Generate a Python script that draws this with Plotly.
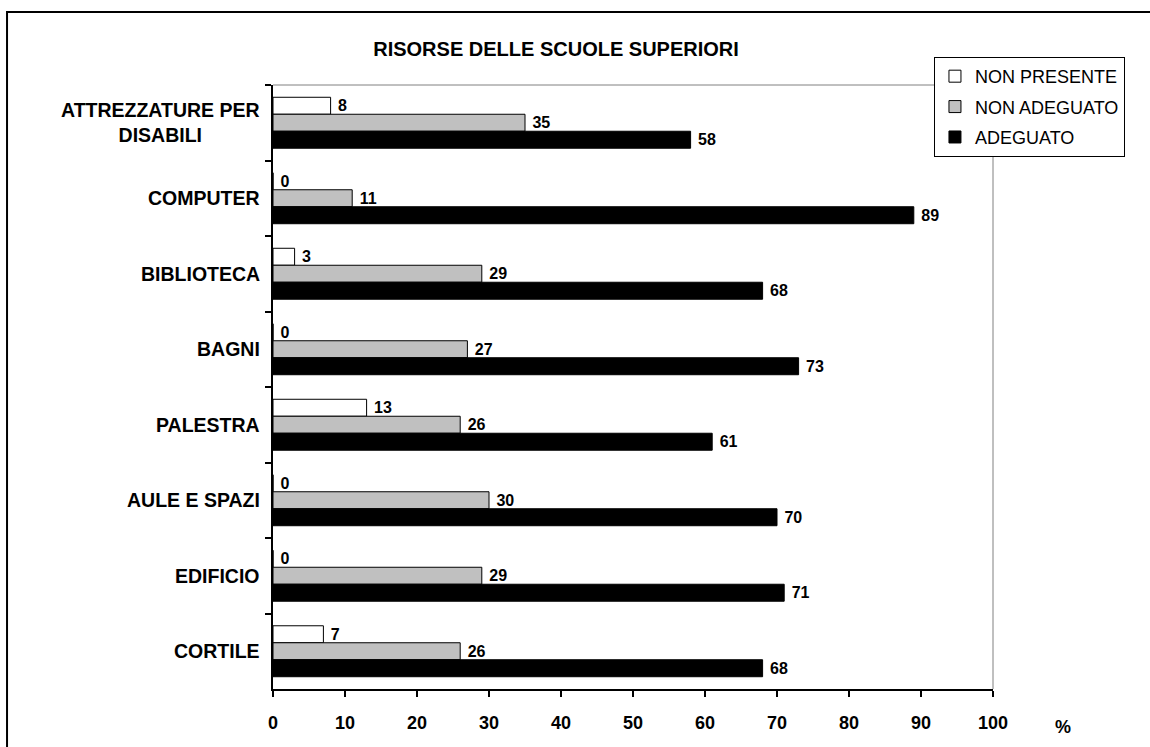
import plotly.graph_objects as go

# Resources of the upper secondary schools (percent of answers)
categories = [
    "ATTREZZATURE PER<br>DISABILI",
    "COMPUTER",
    "BIBLIOTECA",
    "BAGNI",
    "PALESTRA",
    "AULE E SPAZI",
    "EDIFICIO",
    "CORTILE",
]
non_presente = [8, 0, 3, 0, 13, 0, 0, 7]
non_adeguato = [35, 11, 29, 27, 26, 30, 29, 26]
adeguato = [58, 89, 68, 73, 61, 70, 71, 68]
x_ticks = [0, 10, 20, 30, 40, 50, 60, 70, 80, 90, 100]

FONT = "Arial, 'Liberation Sans', sans-serif"

series = [
    ("NON PRESENTE", non_presente, "#FFFFFF"),
    ("NON ADEGUATO", non_adeguato, "#C0C0C0"),
    ("ADEGUATO", adeguato, "#000000"),
]

fig = go.Figure()
for name, values, color in series:
    fig.add_trace(go.Bar(
        name=name,
        y=categories,
        x=values,
        orientation="h",
        marker=dict(color=color, line=dict(color="#000000", width=1)),
        text=[str(v) for v in values],
        texttemplate=" %{text}",
        textposition="outside",
        constraintext="none",
        textfont=dict(family=FONT, size=16, color="#000000", weight="bold"),
        cliponaxis=False,
        legendgroup=name,
    ))

# category labels, centred line by line
annotations = [
    dict(
        x=0, xref="paper", y=c, yref="y",
        text="<b>" + c.replace("<br>", "</b><br><b>") + "</b>",
        showarrow=False, xanchor="right", yanchor="middle",
        align="center", xshift=-11,
        font=dict(family=FONT, size=19.5, color="#000000"),
    )
    for c in categories
]
annotations.append(dict(
    x=1.0833, xref="paper", y=-0.063, yref="paper", text="<b>%</b>",
    showarrow=False, xanchor="left", yanchor="middle",
    font=dict(family=FONT, size=18, color="#000000"),
))

shapes = [
    # outer frame
    dict(type="rect", xref="paper", yref="paper",
         x0=-0.3694, x1=1.223, y0=-0.105, y1=1.1209,
         line=dict(color="#000000", width=2), layer="below"),
    # top and right edges of the plot area
    dict(type="line", xref="paper", yref="paper", x0=0, x1=1, y0=1, y1=1,
         line=dict(color="#808080", width=1)),
    dict(type="line", xref="paper", yref="paper", x0=1, x1=1, y0=0, y1=1,
         line=dict(color="#808080", width=1)),
]

fig.update_layout(
    width=1150, height=747,
    margin=dict(l=273, r=157, t=85, b=58),
    paper_bgcolor="#FFFFFF", plot_bgcolor="#FFFFFF",
    barmode="group", bargap=0.325, bargroupgap=0,
    title=dict(
        text="<b>RISORSE DELLE SCUOLE SUPERIORI</b>",
        x=0.4835, xref="container", xanchor="center",
        y=0.934, yref="container", yanchor="middle",
        font=dict(family=FONT, size=20, color="#000000"),
    ),
    xaxis=dict(
        range=[0, 100], tickvals=x_ticks, showgrid=False, zeroline=False,
        showline=True, linecolor="#000000", linewidth=2,
        ticks="outside", ticklen=6, tickcolor="#000000", tickwidth=1.5,
        ticklabelstandoff=10,
        tickfont=dict(family=FONT, size=18, color="#000000", weight="bold"),
        fixedrange=True,
    ),
    yaxis=dict(
        autorange="reversed", showgrid=False, zeroline=False,
        showline=True, linecolor="#000000", linewidth=2,
        ticks="outside", tickson="boundaries", ticklen=6,
        tickcolor="#000000", tickwidth=1.5,
        showticklabels=False, fixedrange=True,
    ),
    legend=dict(
        x=0.918, y=1.0464, xanchor="left", yanchor="top",
        xref="paper", yref="paper",
        bgcolor="#FFFFFF", bordercolor="#000000", borderwidth=1,
        font=dict(family=FONT, size=18, color="#000000"),
        traceorder="grouped", tracegroupgap=4,
        itemwidth=30,
    ),
    annotations=annotations,
    shapes=shapes,
    showlegend=True,
)

fig.write_html("out.html")
